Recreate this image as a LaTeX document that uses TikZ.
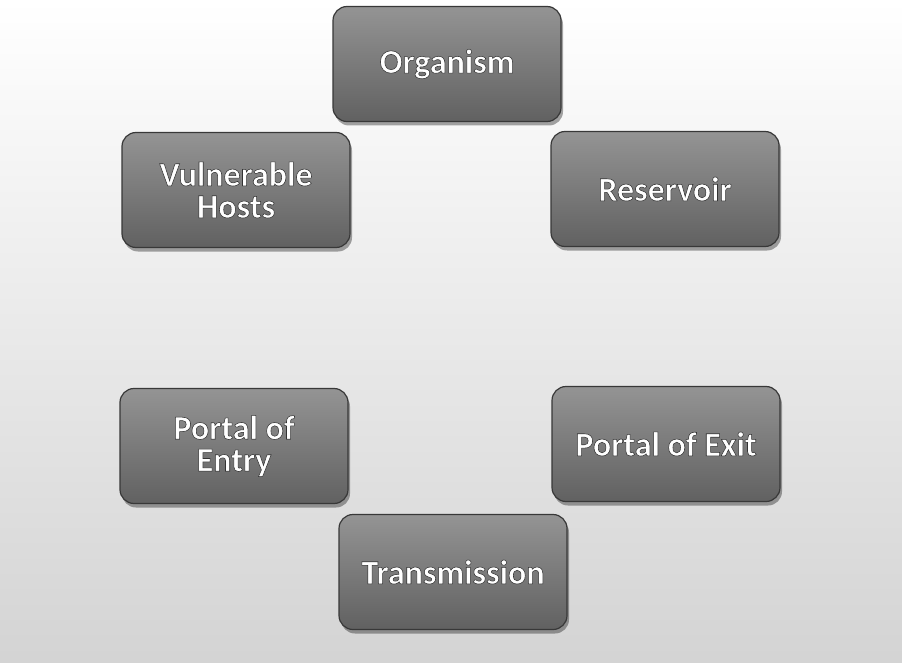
\documentclass[tikz,border=0pt]{standalone}
\usepackage{fontspec}
\setmainfont{Carlito}
\usetikzlibrary{shadows}

% white letters with a thin dark rim (fill + stroke text rendering)
\newcommand\rimtext{\special{pdf:literal direct 2 Tr 0.2 G 0.55 w}}

\tikzset{
  stagebox/.style={rounded corners=14pt, minimum width=228pt, minimum height=115pt,
    draw=black!78, line width=1.2pt, top color=black!42, bottom color=black!62,
    align=center, text=white, font=\bfseries\fontsize{34}{32}\selectfont,
    drop shadow={shadow xshift=2pt, shadow yshift=-4pt, opacity=0.35, fill=black}}
}

\begin{document}
\begin{tikzpicture}[x=1pt,y=-1pt]
  % paper tone
  \fill[top color=white, middle color=black!5, bottom color=black!17]
    (0,0) rectangle (902,663);
  \useasboundingbox (0,0) rectangle (902,663);

  % the six stages of the chain
  \foreach \n/\cx/\cy/\t in {
      org/447/64/Organism,
      hosts/236/190/{Vulnerable\\Hosts},
      res/665/189/Reservoir,
      entry/234/446/{Portal of\\Entry},
      exit/666/444/Portal of Exit,
      trans/453/572/Transmission}{
    \node[stagebox] (\n) at (\cx,\cy) {\rimtext\t};
  }
\end{tikzpicture}
\end{document}
